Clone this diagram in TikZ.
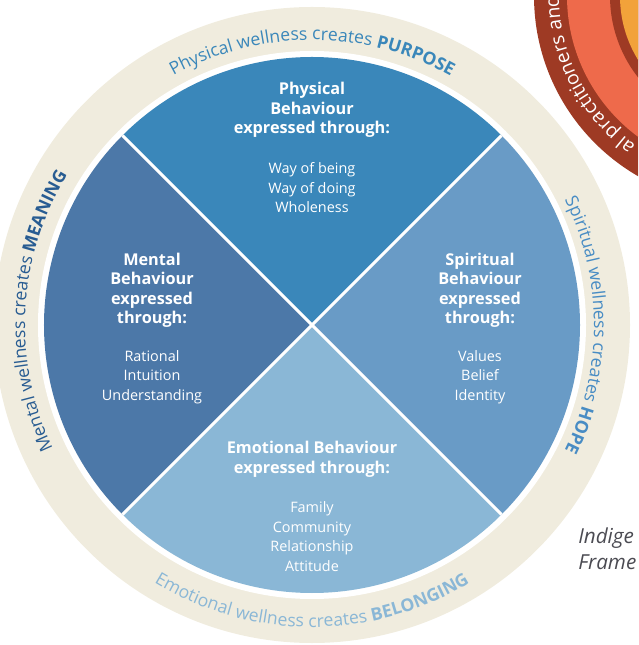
\documentclass[tikz,border=0pt]{standalone}
\usepackage{fontspec}
\setmainfont{Open Sans}
\usetikzlibrary{decorations.text}

\definecolor{physical}{RGB}{58,135,186}
\definecolor{mental}{RGB}{76,120,168}
\definecolor{spiritual}{RGB}{105,155,198}
\definecolor{emotional}{RGB}{138,183,214}
\definecolor{beige}{RGB}{240,236,222}
\definecolor{physText}{RGB}{58,135,186}
\definecolor{mentText}{RGB}{40,92,146}
\definecolor{spirText}{RGB}{72,140,196}
\definecolor{emotText}{RGB}{138,183,214}
\definecolor{redDark}{RGB}{158,58,36}
\definecolor{redLight}{RGB}{238,106,75}
\definecolor{sunYellow}{RGB}{242,162,58}
\definecolor{noteGray}{RGB}{75,75,82}

\newcommand{\ringfont}{\fontsize{13.2}{16}\selectfont}
\newcommand{\redfont}{\fontsize{14.5}{17}\selectfont}

\tikzset{
  head/.style={text=white, align=center, font=\bfseries\fontsize{12.2}{14.6}\selectfont},
  items/.style={text=white, align=center, font=\fontsize{10.8}{14.6}\selectfont},
  ringtext/.style={decorate, decoration={text along path, text align=center, text={#1}}},
  note/.style={anchor=base west, inner sep=0pt, text=noteGray, font=\itshape\fontsize{15.5}{19.5}\selectfont}
}

\begin{document}
\begin{tikzpicture}[x=0.75pt,y=0.75pt]
\useasboundingbox (-312,-320) rectangle (326,325);
\clip (-312,-320) rectangle (326,325);

%Shape: Outer ring
\fill[beige] (0,0) circle (318);
\fill[white] (0,0) circle (274);
%Shape: Quarters
\fill[physical] (0,0) -- (135:268) arc (135:45:268) -- cycle;
\fill[spiritual] (0,0) -- (45:268) arc (45:-45:268) -- cycle;
\fill[emotional] (0,0) -- (-45:268) arc (-45:-135:268) -- cycle;
\fill[mental] (0,0) -- (-135:268) arc (-135:-225:268) -- cycle;
%Straight Lines
\draw[white, line width=2.2pt] (135:268) -- (-45:268);
\draw[white, line width=2.2pt] (45:268) -- (-135:268);

%Text on the ring
\path[ringtext={|\ringfont\color{physText}|Physical wellness creates |\ringfont\bfseries\color{physText}|PURPOSE}] (150:285) arc (150:30:285);
\path[ringtext={|\ringfont\color{spirText}|Spiritual wellness creates |\ringfont\bfseries\color{spirText}|HOPE}] (50:282) arc (50:-50:282);
\path[ringtext={|\ringfont\color{emotText}|Emotional wellness creates |\ringfont\bfseries\color{emotText}|BELONGING}] (210:302) arc (210:330:302);
\path[ringtext={|\ringfont\color{mentText}|Mental wellness creates |\ringfont\bfseries\color{mentText}|MEANING}] (226:287) arc (226:128:287);

%Physical
\node[head] (physHead) at (0,215) {Physical\\Behaviour\\expressed through:};
\node[items] (physItems) at (0,137) {Way of being\\Way of doing\\Wholeness};
%Mental
\node[head] (mentHead) at (-160,34.5) {Mental\\Behaviour\\expressed\\through:};
\node[items] (mentItems) at (-160,-52) {Rational\\Intuition\\Understanding};
%Spiritual
\node[head] (spirHead) at (168,34.5) {Spiritual\\Behaviour\\expressed\\through:};
\node[items] (spirItems) at (168,-52) {Values\\Belief\\Identity};
%Emotional
\node[head] (emotHead) at (0,-134.5) {Emotional Behaviour\\expressed through:};
\node[items] (emotItems) at (0,-211.5) {Family\\Community\\Relationship\\Attitude};

%Shape: Red circle (top right, cut by the frame)
\begin{scope}[shift={(430,329)}]
\fill[redDark] (0,0) circle (208);
\fill[redLight] (0,0) circle (175);
\fill[redDark] (0,0) circle (132);
\fill[sunYellow] (0,0) circle (122);
\path[decorate, decoration={text along path, text={|\redfont\color{white}|al practitioners and}}] (234.5:183) arc (234.5:170:183);
\end{scope}

%Caption (cut by the frame)
\node[note] (capTop) at (266,-218) {Indige};
\node[note] (capBot) at (266,-244) {Frame};
\end{tikzpicture}
\end{document}
